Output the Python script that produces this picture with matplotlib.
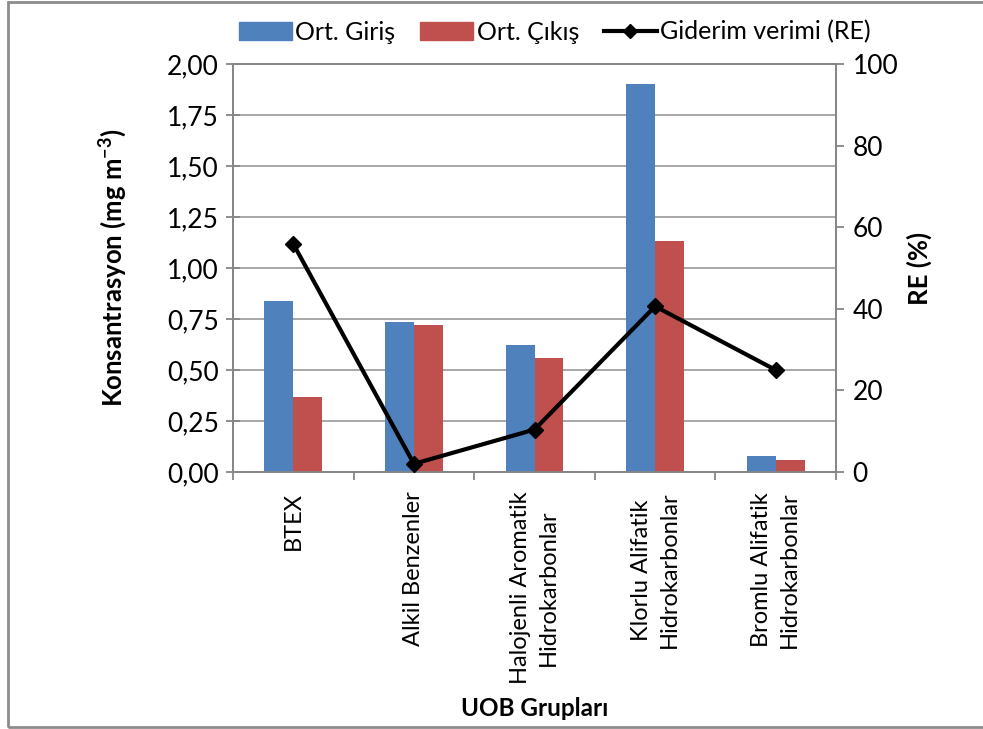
import numpy as np
import matplotlib
matplotlib.use('Agg')
import matplotlib.pyplot as plt
from matplotlib.patches import Rectangle
from matplotlib.lines import Line2D
from matplotlib.ticker import FuncFormatter, FixedLocator

plt.rcParams['font.family'] = ['Lato', 'DejaVu Sans']
plt.rcParams['mathtext.default'] = 'regular'

# data
groups = ['BTEX', 'Alkil Benzenler', 'Halojenli Aromatik\nHidrokarbonlar',
          'Klorlu Alifatik\nHidrokarbonlar', 'Bromlu Alifatik\nHidrokarbonlar']
giris = [0.838, 0.735, 0.622, 1.90, 0.078]
cikis = [0.368, 0.723, 0.560, 1.13, 0.057]
re_pct = [55.9, 2.0, 10.4, 40.6, 25.0]

blue = '#4F81BD'
red = '#C0504D'
grey = '#868686'

fig = plt.figure(figsize=(9.83, 7.29), dpi=100)
ax = fig.add_axes([233/983, 1-472/729, 603/983, 408/729])
ax2 = ax.twinx()

x = np.arange(len(groups))
w = 0.24
ax.bar(x - w/2, giris, w, color=blue, zorder=3, label='Ort. Giriş')
ax.bar(x + w/2, cikis, w, color=red, zorder=3, label='Ort. Çıkış')
ax2.plot(x, re_pct, color='black', lw=3, marker='D', ms=8, zorder=4,
         label='Giderim verimi (RE)')

# left axis
ax.set_xlim(-0.5, len(groups) - 0.5)
ax.set_ylim(0, 2.0)
ax.set_yticks(np.arange(0, 2.01, 0.25))
ax.yaxis.set_major_formatter(FuncFormatter(lambda v, p: f'{v:.2f}'.replace('.', ',')))
ax.grid(axis='y', color='#A0A0A0', lw=1.3, zorder=1)
ax.set_axisbelow(True)

# category ticks between groups, labels at centres
ax.xaxis.set_major_locator(FixedLocator(np.arange(-0.5, len(groups), 1.0)))
ax.xaxis.set_minor_locator(FixedLocator(x))
ax.set_xticklabels([''] * (len(groups) + 1))
ax.set_xticklabels(groups, minor=True, rotation=90, ha='center', va='top',
                   multialignment='center', fontsize=17, linespacing=1.4)
ax.tick_params(axis='x', which='minor', length=0, pad=14)
ax.tick_params(axis='x', which='major', direction='out', length=6, color=grey, width=1.3)
ax.tick_params(axis='y', direction='inout', length=10, color=grey, width=1.3,
               labelsize=19, pad=5)

for s in ax.spines.values():
    s.set_color(grey)
    s.set_linewidth(1.3)

ax.set_ylabel('Konsantrasyon (mg m$^{-3}$)', fontsize=18.5, fontweight='bold')
ax.yaxis.set_label_coords(-0.172, 0.5)
ax.set_xlabel('UOB Grupları', fontsize=17.5, fontweight='bold')
ax.xaxis.set_label_coords(0.5, -0.552)

# right axis
ax2.set_ylim(0, 100)
ax2.set_yticks(np.arange(0, 101, 20))
ax2.tick_params(axis='y', direction='out', length=6, color=grey, width=1.3,
                labelsize=19, pad=6)
for s in ax2.spines.values():
    s.set_color(grey)
    s.set_linewidth(1.3)
ax2.set_ylabel('RE (%)', fontsize=18.5, fontweight='bold', labelpad=6)

# legend above the plot
handles = [Rectangle((0, 0), 1, 1, color=blue), Rectangle((0, 0), 1, 1, color=red),
           Line2D([], [], color='black', lw=3, marker='D', ms=7)]
labels = ['Ort. Giriş', 'Ort. Çıkış', 'Giderim verimi (RE)']
fig.legend(handles, labels, loc='center', bbox_to_anchor=(555/983, 1-32/729), ncol=3,
           frameon=False, fontsize=18, handlelength=2.1, handleheight=0.75,
           handletextpad=0.15, columnspacing=1.0)

# outer chart border
fig.patches.append(Rectangle((8/983, 2/729), 1.2, 725/729, transform=fig.transFigure,
                             fill=False, edgecolor='#8C8C8C', lw=2, clip_on=False))

fig.savefig('out.png', dpi=100)
